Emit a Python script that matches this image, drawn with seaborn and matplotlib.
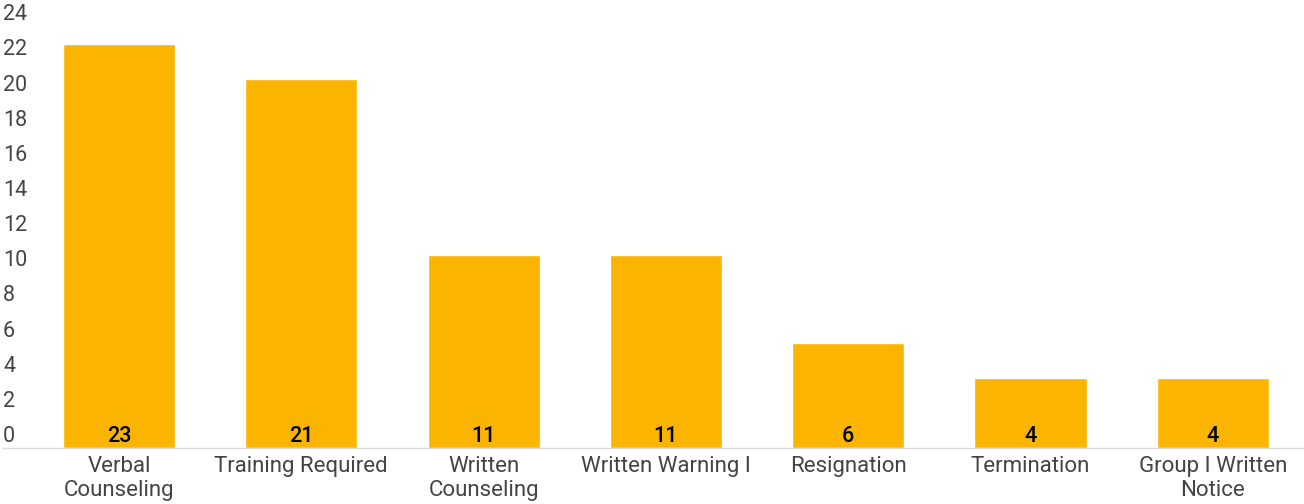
import matplotlib
matplotlib.use("Agg")
import matplotlib.pyplot as plt
import matplotlib.transforms as mtransforms
import seaborn as sns
import pandas as pd

# Chart data
categories = ["Verbal\nCounseling", "Training Required", "Written\nCounseling",
              "Written Warning I", "Resignation", "Termination", "Group I Written\nNotice"]
counts = [23, 21, 11, 11, 6, 4, 4]
y_ticks = [0, 2, 4, 6, 8, 10, 12, 14, 16, 18, 20, 22, 24]

BAR_COLOR = "#fbb400"
TEXT_GRAY = "#444444"

sns.set_theme(style="white")
plt.rcParams["font.family"] = ["Roboto", "DejaVu Sans"]

df = pd.DataFrame({"category": categories, "count": counts})

fig = plt.figure(figsize=(13.04, 5.04), dpi=100)
ax = fig.add_axes([3 / 1304, 56 / 504, 1301 / 1304, 448 / 504])

sns.barplot(data=df, x="category", y="count", color=BAR_COLOR, saturation=1,
            width=0.615, ax=ax)

ax.set_xlim(-0.636, 6.5)
ax.set_ylim(0, 25.5)
ax.set_xlabel("")
ax.set_ylabel("")

for side in ["top", "right", "left"]:
    ax.spines[side].set_visible(False)
ax.spines["bottom"].set_color("#dadada")
ax.spines["bottom"].set_linewidth(1)

ax.tick_params(axis="x", length=0, pad=5.5, labelsize=16, labelcolor=TEXT_GRAY)
ax.set_yticks([])

# y labels sit just above their tick positions, left aligned
offset = mtransforms.ScaledTranslation(0, 6 / 100, fig.dpi_scale_trans)
ytrans = ax.get_yaxis_transform() + offset
for v in y_ticks:
    ax.text(0, v, str(v), transform=ytrans, ha="left", va="baseline",
            fontsize=15.5, color=TEXT_GRAY)

# value labels at the foot of each bar
xtrans = ax.transData + offset
for i, c in enumerate(counts):
    ax.text(i, 0, str(c), transform=xtrans, ha="center", va="baseline",
            fontsize=15.5, fontweight="medium", color="black")

fig.savefig("out.png", dpi=100)
